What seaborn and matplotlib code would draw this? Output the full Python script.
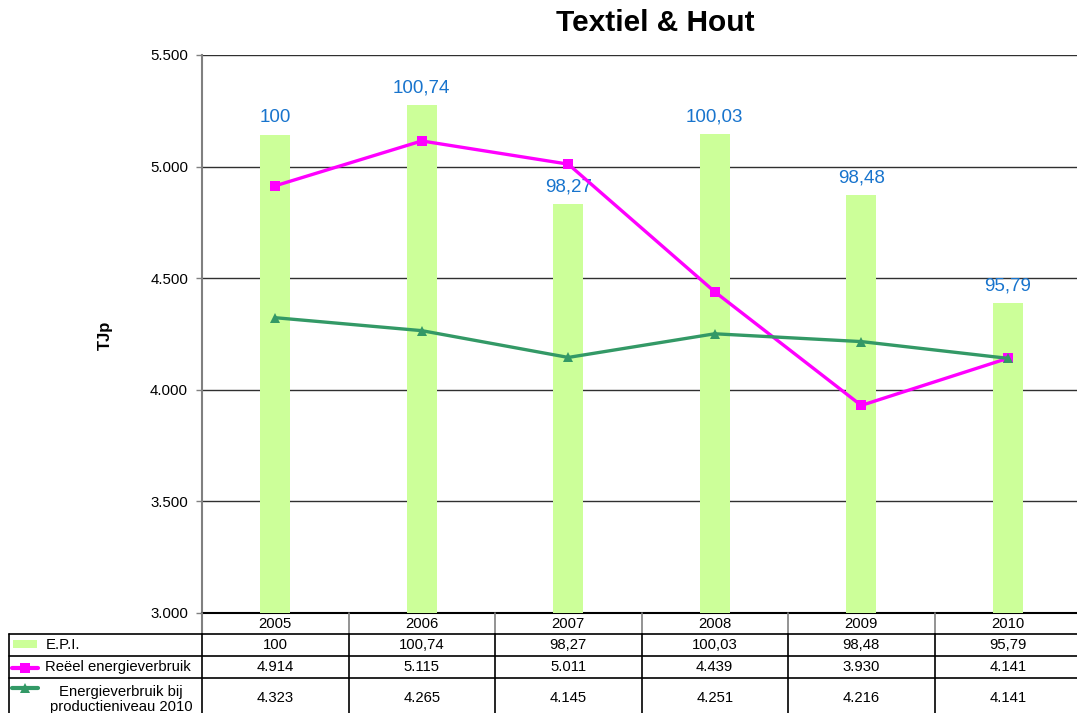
import matplotlib
matplotlib.use("Agg")
import matplotlib.pyplot as plt
import matplotlib.ticker as mticker
import seaborn as sns
import pandas as pd

years = ["2005", "2006", "2007", "2008", "2009", "2010"]
epi = [100, 100.74, 98.27, 100.03, 98.48, 95.79]
reeel = [4914, 5115, 5011, 4439, 3930, 4141]
prod2010 = [4323, 4265, 4145, 4251, 4216, 4141]
row_labels = ["E.P.I.", "Reëel energieverbruik", "Energieverbruik bij\nproductieniveau 2010"]
title = "Textiel & Hout"
ylabel = "TJp"

BAR = "#CCFF99"
MAG = "#FF00FF"
GRN = "#339966"
LBL = "#1874CD"

sns.set_style("white")
plt.rcParams["font.family"] = ["Liberation Sans", "DejaVu Sans"]
plt.rcParams["text.color"] = "black"
plt.rcParams["ytick.color"] = "black"
plt.rcParams["ytick.labelcolor"] = "black"

W, H = 1077, 713
fig = plt.figure(figsize=(W / 100, H / 100), dpi=100)

def fx(px):
    return px / W

def fy(py):
    return 1 - py / H

L, R, T, B = 202, 1081, 55, 613
ax = fig.add_axes([fx(L), fy(B), fx(R) - fx(L), fy(T) - fy(B)])
ax.set_zorder(0)
ax_bar = ax.twinx()
ax_bar.set_zorder(1)
ax_line = ax.twinx()
ax_line.set_zorder(2)

df = pd.DataFrame({"year": years, "epi": epi, "reeel": reeel, "prod": prod2010})

# bars (EPI on hidden secondary scale)
sns.barplot(data=df, x="year", y="epi", ax=ax_bar, color=BAR, saturation=1,
            width=0.205, linewidth=0)
ax_bar.set_ylim(88, 102)
labels = [f"{v:g}".replace(".", ",") for v in epi]
ax_bar.bar_label(ax_bar.containers[0], labels=labels, padding=6, color=LBL, fontsize=13.5)

# lines
sns.lineplot(data=df, x="year", y="reeel", ax=ax_line, color=MAG, marker="s",
             markersize=7, markeredgewidth=0, linewidth=2.4, sort=False)
sns.lineplot(data=df, x="year", y="prod", ax=ax_line, color=GRN, marker="^",
             markersize=7, markeredgewidth=0, linewidth=2.4, sort=False)
ax_line.set_ylim(3000, 5500)

for a in (ax, ax_bar, ax_line):
    a.set_xlim(-0.5, 5.5)
    a.set_xlabel("")
    a.set_ylabel("")
for a in (ax_bar, ax_line):
    a.set_yticks([])
    a.set_xticks([])
    for s in a.spines.values():
        s.set_visible(False)
    a.patch.set_visible(False)

ax.set_ylim(3000, 5500)
ax.set_yticks(range(3000, 5501, 500))
ax.yaxis.set_major_formatter(mticker.FuncFormatter(lambda v, p: f"{v:,.0f}".replace(",", ".")))
ax.tick_params(axis="y", which="major", direction="out", length=4, width=1,
               color="#808080", pad=6, labelsize=10.8, left=True, labelcolor="black")
ax.set_xticks([])
ax.yaxis.grid(True, color="#303030", linewidth=1)
ax.set_axisbelow(True)
for s in ("top", "right"):
    ax.spines[s].set_visible(False)
ax.spines["left"].set_color("#808080")
ax.spines["left"].set_linewidth(1.5)
ax.spines["bottom"].set_color("black")
ax.spines["bottom"].set_linewidth(1.5)

fig.text(fx(655), fy(23), title, ha="center", va="center", fontsize=21.5,
         fontweight="bold", color="black")
fig.text(fx(105), fy(335), ylabel, ha="center", va="center", rotation=90,
         fontsize=12, fontweight="bold", color="black")

# data table
FS = 10.7
tab = fig.add_axes([0, 0, 1, fy(B)])
tab.set_xlim(0, W)
tab.set_ylim(H, B)
tab.axis("off")
colw = (R - L) / 6
xs = [L + i * colw for i in range(7)]
rows_y = [613, 634, 656, 678, 740]
# header
for i, y in enumerate(years):
    tab.text(xs[i] + colw / 2, 623.5, y, ha="center", va="center", fontsize=FS)
for x in xs[1:6]:
    tab.plot([x, x], [613, 634], color="#808080", lw=1.2, clip_on=False)
tab.plot([L, L], [613, 634], color="#808080", lw=1.5, clip_on=False)
# row lines
for y in rows_y[1:4]:
    tab.plot([9, W], [y, y], color="black", lw=1.2, clip_on=False)
for x in [9] + xs[:6]:
    tab.plot([x, x], [634, 720], color="black", lw=1.2, clip_on=False)

vals = [[f"{v:g}".replace(".", ",") for v in epi],
        [f"{v:,}".replace(",", ".") for v in reeel],
        [f"{v:,}".replace(",", ".") for v in prod2010]]
cy = [645, 667, 698]
for r in range(3):
    for i in range(6):
        tab.text(xs[i] + colw / 2, cy[r], vals[r][i], ha="center", va="center", fontsize=FS)

tab.text(46, cy[0], row_labels[0], ha="left", va="center", fontsize=FS)
tab.text(45, cy[1], row_labels[1], ha="left", va="center", fontsize=FS)
tab.text(121, 699.5, row_labels[2], ha="center", va="center", fontsize=FS, linespacing=1.05)
# legend keys
tab.add_patch(plt.Rectangle((13, 640), 24, 8, color=BAR, lw=0))
tab.plot([12, 38], [668, 668], color=MAG, lw=3)
tab.plot([25], [668], color=MAG, marker="s", markersize=7, markeredgewidth=0)
tab.plot([12, 38], [688, 688], color=GRN, lw=3)
tab.plot([25], [688], color=GRN, marker="^", markersize=7, markeredgewidth=0)

fig.savefig("out.png", dpi=100)
